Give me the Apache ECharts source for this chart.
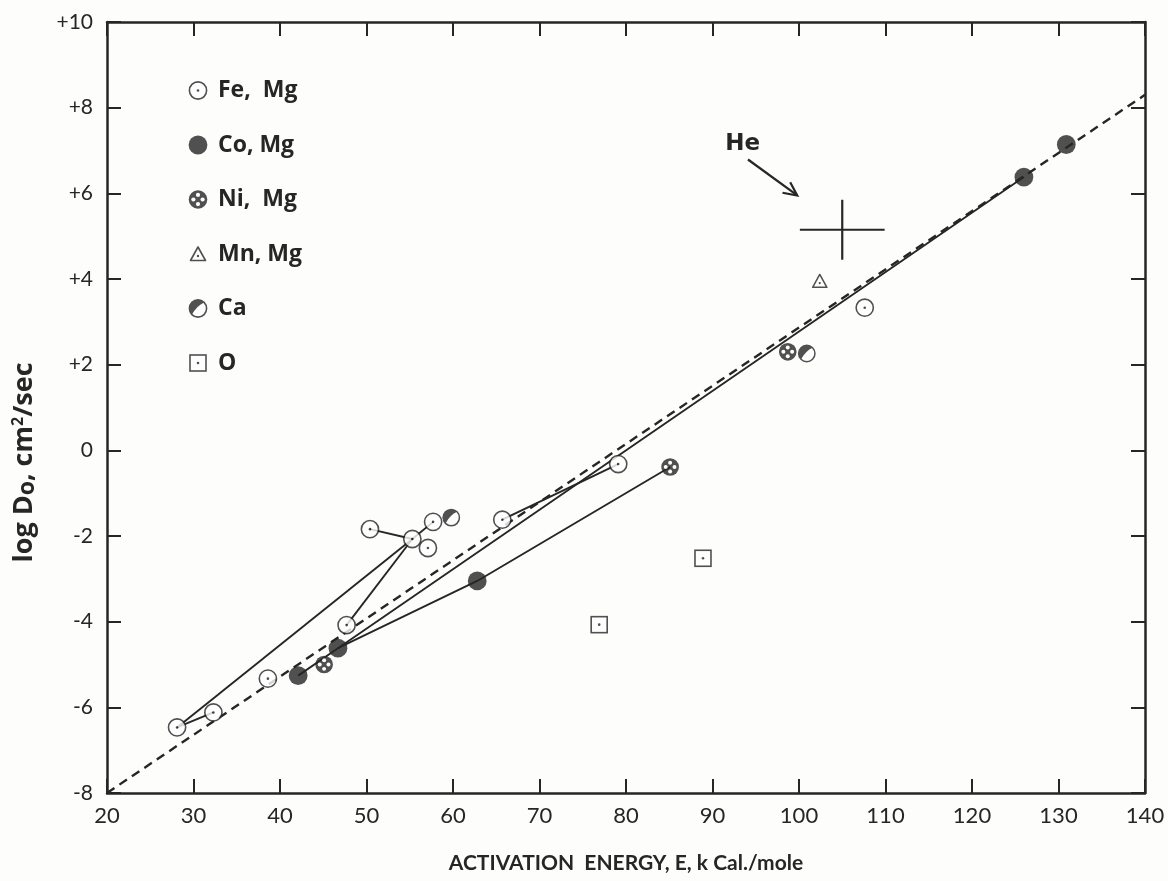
<!DOCTYPE html>
<html>
<head>
<meta charset="utf-8">
<script src="https://cdn.jsdelivr.net/npm/echarts@6/dist/echarts.min.js"></script>
<style>
html,body{margin:0;padding:0;background:#fdfdfc;}
#chart{width:1168px;height:881px;}
</style>
</head>
<body>
<div id="chart"></div>
<script>
// ---------- data (activation energy kcal/mole, log D0 cm^2/sec) ----------
const xTicks = [20, 30, 40, 50, 60, 70, 80, 90, 100, 110, 120, 130, 140];
const yTicks = [-8, -6, -4, -2, 0, 2, 4, 6, 8, 10];

const feMg = [[28.1,-6.47],[32.3,-6.12],[38.6,-5.33],[47.7,-4.08],[50.4,-1.84],[55.3,-2.07],[57.1,-2.28],[57.7,-1.67],[65.7,-1.62],[79.1,-0.32],[107.6,3.33]];
const coMg = [[42.1,-5.26],[46.7,-4.62],[62.8,-3.05],[126.0,6.38],[130.9,7.14]];
const niMg = [[45.1,-5.00],[85.1,-0.39],[98.7,2.30]];
const mnMg = [[102.4,3.95]];
const caPts = [[59.8,-1.57],[100.9,2.26]];
const oPts = [[76.9,-4.07],[88.9,-2.52]];

// connecting solid lines
const lineFeLong = [[28.1,-6.47],[55.3,-2.07]];
const lineFeShort = [[28.1,-6.47],[32.3,-6.12]];
const lineFeCluster = [[50.4,-1.84],[55.3,-2.07],[57.7,-1.67]];
const lineFeDown = [[55.3,-2.07],[47.7,-4.08]];
const lineCoNi = [[42.1,-5.26],[46.7,-4.62],[62.8,-3.05],[85.1,-0.39]];
const lineCoFit = [[46.7,-4.62],[126.0,6.38]];
const lineFeMid = [[65.7,-1.62],[79.1,-0.32]];
// dashed overall fit
const dashedFit = [[20,-8],[140,8.3]];

// He: centre x, centre y, x half-range, y half-range
const heCross = [105.0, 5.15, 4.9, 0.7];
const heArrow = [94.1, 6.79, 99.8, 5.95];
const heLabel = [93.5, 7.15];

// ---------- styling ----------
const ink = '#262626';
const fontFam = 'Lato, "Noto Sans", "DejaVu Sans", sans-serif';
const wideFam = '"Open Sans", "Noto Sans", "DejaVu Sans", sans-serif';
function uri(svg){ return 'image://data:image/svg+xml;charset=utf-8,' + encodeURIComponent(svg); }
const S = '<svg xmlns="http://www.w3.org/2000/svg" width="40" height="40" viewBox="0 0 20 20">';
const feIcon = uri(S + '<circle cx="10" cy="10" r="8.6" fill="#fff" stroke="'+ink+'" stroke-width="1.6"/><circle cx="10" cy="10" r="1.3" fill="'+ink+'"/></svg>');
const coIcon = uri(S + '<circle cx="10" cy="10" r="9.4" fill="'+ink+'"/></svg>');
const niIcon = uri(S + '<circle cx="10" cy="10" r="9.3" fill="'+ink+'"/><circle cx="10" cy="5.4" r="2.1" fill="#fff"/><circle cx="10" cy="14.6" r="2.1" fill="#fff"/><circle cx="5.4" cy="10" r="2.1" fill="#fff"/><circle cx="14.6" cy="10" r="2.1" fill="#fff"/></svg>');
const mnIcon = uri(S + '<polygon points="10,3 17.5,16.5 2.5,16.5" fill="#fff" stroke="'+ink+'" stroke-width="1.6" stroke-linejoin="round"/><circle cx="10" cy="12" r="1.2" fill="'+ink+'"/></svg>');
const caIcon = uri(S + '<circle cx="10" cy="10" r="8.6" fill="#fff" stroke="'+ink+'" stroke-width="1.6"/><path d="M 3.9 16.1 A 8.6 8.6 0 0 1 16.1 3.9 Q 9 7 3.9 16.1 Z" fill="'+ink+'"/></svg>');
const oIcon = uri(S + '<rect x="2" y="2" width="16" height="16" fill="#fff" stroke="'+ink+'" stroke-width="1.6"/><circle cx="10" cy="10" r="1.3" fill="'+ink+'"/></svg>');

function solid(name, data){
  return {type:'line', name:name, data:data, showSymbol:false, symbol:'none', silent:true, z:2,
          lineStyle:{color:ink, width:1.9}, animation:false};
}
function pts(name, data, icon, size){
  return {type:'scatter', name:name, data:data, symbol:icon, symbolSize:size, z:5, silent:true, animation:false};
}

const chart = echarts.init(document.getElementById('chart'), null, {renderer:'canvas'});
const axisCommon = {
  axisLine:{show:true, onZero:false, lineStyle:{color:ink, width:2.5}},
  axisTick:{show:true, inside:true, length:14, lineStyle:{color:ink, width:2}},
  splitLine:{show:false}
};
chart.setOption({
  backgroundColor:'#fdfdfc',
  animation:false,
  grid:{left:107, right:23, top:22, bottom:88},
  legend:{
    orient:'vertical', left:183, top:74, itemWidth:20, itemHeight:20, itemGap:31.5,
    textStyle:{fontFamily:wideFam, fontSize:23, fontWeight:'bold', color:ink, padding:[0,0,0,5]},
    data:[
      {name:'Fe,  Mg', icon:feIcon},
      {name:'Co, Mg', icon:coIcon},
      {name:'Ni,  Mg', icon:niIcon},
      {name:'Mn, Mg', icon:mnIcon},
      {name:'Ca', icon:caIcon},
      {name:'O', icon:oIcon}
    ],
    selectedMode:false
  },
  xAxis:[
    Object.assign({type:'value', min:xTicks[0], max:xTicks[xTicks.length-1], interval:10, position:'bottom',
      name:'ACTIVATION  ENERGY, E, k Cal./mole', nameLocation:'middle', nameGap:60,
      nameTextStyle:{fontFamily:fontFam, fontSize:21, fontWeight:'bold', color:ink},
      axisLabel:{fontFamily:fontFam, fontSize:22, color:ink, margin:12}}, axisCommon),
    Object.assign({type:'value', min:xTicks[0], max:xTicks[xTicks.length-1], interval:10, position:'top',
      axisLabel:{show:false}}, axisCommon)
  ],
  yAxis:[
    Object.assign({type:'value', min:yTicks[0], max:yTicks[yTicks.length-1], interval:2, position:'left',
      name:'log D{s|o}, cm{p|2}/sec', nameLocation:'middle', nameGap:68, nameRotate:90,
      nameTextStyle:{fontFamily:wideFam, fontSize:27, fontWeight:'bold', color:ink, padding:[0,110,0,0],
        rich:{s:{fontFamily:wideFam, fontSize:23, fontWeight:'bold', color:ink, verticalAlign:'bottom', padding:[6,0,0,0]},
              p:{fontFamily:wideFam, fontSize:16, fontWeight:'bold', color:ink, verticalAlign:'top', padding:[0,0,10,0]}}},
      axisLabel:{fontFamily:fontFam, fontSize:21, color:ink, margin:14,
        formatter:function(v){ return v>0 ? '+'+v : (v<0 ? '-'+Math.abs(v) : '0'); }}}, axisCommon),
    Object.assign({type:'value', min:yTicks[0], max:yTicks[yTicks.length-1], interval:2, position:'right',
      axisLabel:{show:false}}, axisCommon)
  ],
  series:[
    {type:'line', name:'fit', data:dashedFit, showSymbol:false, symbol:'none', silent:true, z:1,
     lineStyle:{color:ink, width:2.4, type:[9,6]}},
    solid('l1', lineFeLong), solid('l2', lineFeShort), solid('l3', lineFeCluster), solid('l4', lineFeDown),
    solid('l5', lineCoNi), solid('l6', lineCoFit), solid('l7', lineFeMid),
    pts('Fe,  Mg', feMg, feIcon, 20),
    pts('Co, Mg', coMg, coIcon, 20),
    pts('Ni,  Mg', niMg, niIcon, 19),
    pts('Mn, Mg', mnMg, mnIcon, 19),
    pts('Ca', caPts, caIcon, 19),
    pts('O', oPts, oIcon, 20),
    {type:'custom', name:'He', data:[heCross], encode:{x:0, y:1}, silent:true, z:4,
     renderItem:function(params, api){
       const x=api.value(0), y=api.value(1), dx=api.value(2), dy=api.value(3);
       const l=api.coord([x-dx,y]), r=api.coord([x+dx,y]), t=api.coord([x,y+dy]), b=api.coord([x,y-dy]);
       return {type:'group', children:[
         {type:'line', shape:{x1:l[0],y1:l[1],x2:r[0],y2:r[1]}, style:{stroke:ink, lineWidth:2.2}},
         {type:'line', shape:{x1:t[0],y1:t[1],x2:b[0],y2:b[1]}, style:{stroke:ink, lineWidth:2.2}}
       ]};
     }},
    {type:'custom', name:'HeArrow', data:[heArrow], encode:{x:[0,2], y:[1,3]}, silent:true, z:4,
     renderItem:function(params, api){
       const a=api.coord([api.value(0),api.value(1)]), e=api.coord([api.value(2),api.value(3)]);
       const ang=Math.atan2(e[1]-a[1], e[0]-a[0]), L=15, w=0.45;
       const h1=[e[0]-L*Math.cos(ang-w), e[1]-L*Math.sin(ang-w)];
       const h2=[e[0]-L*Math.cos(ang+w), e[1]-L*Math.sin(ang+w)];
       return {type:'group', children:[
         {type:'line', shape:{x1:a[0],y1:a[1],x2:e[0],y2:e[1]}, style:{stroke:ink, lineWidth:2.2}},
         {type:'polyline', shape:{points:[h1,e,h2]}, style:{stroke:ink, lineWidth:2.2, fill:null}}
       ]};
     }},
    {type:'custom', name:'HeLabel', data:[heLabel], encode:{x:0, y:1}, silent:true, z:4,
     renderItem:function(params, api){
       const p=api.coord([api.value(0),api.value(1)]);
       return {type:'text', x:p[0], y:p[1], style:{text:'He', fill:ink, fontFamily:'"DejaVu Sans", sans-serif',
         fontSize:23, fontWeight:'bold', align:'center', verticalAlign:'middle', textAlign:'center', textVerticalAlign:'middle'}};
     }}
  ]
});
</script>
</body>
</html>
